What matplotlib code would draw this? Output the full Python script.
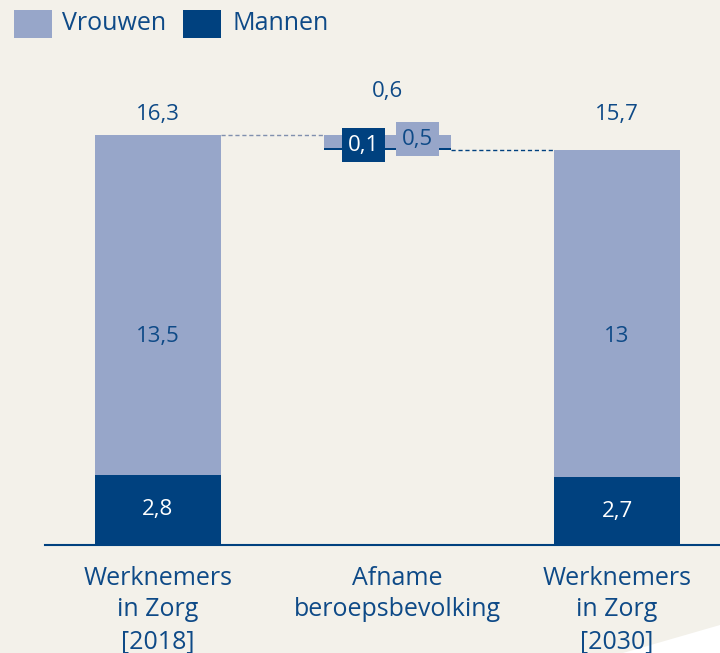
import matplotlib.pyplot as plt
import matplotlib.patches as patches
from matplotlib.transforms import ScaledTranslation

BG = "#F3F1EA"
LIGHT = "#97A6C9"
DARK = "#00417F"
INK = "#0E4A87"

categories = ["Werknemers\nin Zorg\n[2018]", "Afname\nberoepsbevolking", "Werknemers\nin Zorg\n[2030]"]
mannen = [2.8, 0.1, 2.7]
vrouwen = [13.5, 0.5, 13.0]
totals = [16.3, 0.6, 15.7]
total_labels = ["16,3", "0,6", "15,7"]
mannen_labels = ["2,8", "0,1", "2,7"]
vrouwen_labels = ["13,5", "0,5", "13"]

plt.rcParams["font.family"] = ["Open Sans", "DejaVu Sans"]

fig = plt.figure(figsize=(7.2, 6.53), dpi=100, facecolor=BG)

# decorative corner, drawn behind the axes
fig.patches.append(patches.Polygon([(623 / 720, 0), (1, 28 / 653), (1, 0)], closed=True,
                                   transform=fig.transFigure, fc="white", ec="none", zorder=-1))

ax = fig.add_axes([45 / 720, 1 - 545 / 653, 675 / 720, 545 / 653])
ax.set_facecolor("none")
ax.set_xlim(-0.491, 2.448)
ax.set_ylim(0, 545 / 25.15)
width = 0.55

# waterfall: middle bar sits between the two totals
end_total = totals[0] - totals[1]
bottoms_m = [0, end_total, 0]
bottoms_v = [mannen[0], end_total + mannen[1], mannen[2]]
xs = list(range(3))
ax.bar(xs, mannen, width, bottom=bottoms_m, color=DARK, linewidth=0)
ax.bar(xs, vrouwen, width, bottom=bottoms_v, color=LIGHT, linewidth=0)

# connectors
ax.plot([0 + width / 2, 1 - width / 2], [totals[0], totals[0]], ls=(0, (3, 2)), color="#8090AE", lw=1)
ax.plot([1 + width / 2, 2 - width / 2], [totals[2], totals[2]], ls=(0, (3, 2)), color=DARK, lw=1)

for spine in ["top", "right", "left"]:
    ax.spines[spine].set_visible(False)
ax.spines["bottom"].set_color(DARK)
ax.spines["bottom"].set_linewidth(1.5)
ax.set_yticks([])
ax.set_xticks(xs, categories)
ax.tick_params(axis="x", length=0, pad=15, labelsize=18, labelcolor=INK)
for lbl in ax.get_xticklabels():
    lbl.set_linespacing(1.35)
# middle label sits a little right of its bar in the original
mid = ax.get_xticklabels()[1]
mid.set_transform(mid.get_transform() + ScaledTranslation(0.1, 0, fig.dpi_scale_trans))

# outer bars
for i in (0, 2):
    ax.text(i, 17.1, total_labels[i], ha="center", va="center", fontsize=16, color=INK)
    ax.text(i, mannen[i] / 2, mannen_labels[i], ha="center", va="center", fontsize=16, color="white")
    ax.text(i, 8.3, vrouwen_labels[i], ha="center", va="center", fontsize=16, color=INK)

# middle bar labels
ax.text(1, 18.05, total_labels[1], ha="center", va="center", fontsize=16, color=INK)
ax.text(0.896, 15.9, mannen_labels[1], ha="center", va="center", fontsize=16, color="white",
        bbox=dict(boxstyle="square,pad=0.28", fc=DARK, ec="none"))
ax.text(1.13, 16.14, vrouwen_labels[1], ha="center", va="center", fontsize=16, color=INK,
        bbox=dict(boxstyle="square,pad=0.28", fc=LIGHT, ec="none"))

# legend
fig.patches.append(patches.Rectangle((14 / 720, 1 - 38 / 653), 38 / 720, 28 / 653,
                                     transform=fig.transFigure, fc=LIGHT, ec="none"))
fig.text(62 / 720, 1 - 24 / 653, "Vrouwen", fontsize=18, color=INK, va="center")
fig.patches.append(patches.Rectangle((183 / 720, 1 - 38 / 653), 38 / 720, 28 / 653,
                                     transform=fig.transFigure, fc=DARK, ec="none"))
fig.text(232 / 720, 1 - 24 / 653, "Mannen", fontsize=18, color=INK, va="center")

fig.savefig("out.png", dpi=100, facecolor=BG)
